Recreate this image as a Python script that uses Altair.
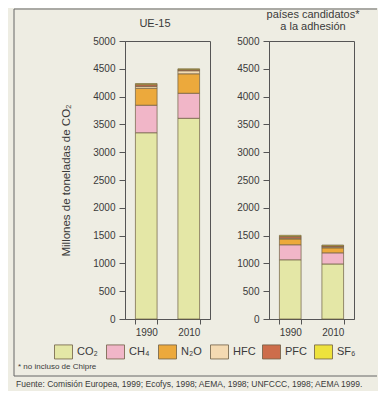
import altair as alt
import pandas as pd

gases = ["CO₂", "CH₄", "N₂O", "HFC", "PFC", "SF₆"]
years = ["1990", "2010"]
ue15_1990 = [3350, 495, 305, 35, 30, 20]
ue15_2010 = [3610, 450, 350, 55, 20, 15]
cand_1990 = [1065, 270, 105, 15, 30, 20]
cand_2010 = [990, 200, 90, 15, 20, 15]
colors = ["#e4e7a6", "#f1b6c8", "#eca93c", "#f4dab2", "#cd6d4b", "#eee23c"]
y_ticks = list(range(0, 5001, 500))
title_ue = ["UE-15"]
title_cand = ["países candidatos*", "a la adhesión"]
y_title = "Millones de toneladas de CO₂"
note = ["* no incluso de Chipre"]
source = ["Fuente: Comisión Europea, 1999; Ecofys, 1998; AEMA, 1998; UNFCCC, 1998; AEMA 1999."]


def table(v1990, v2010):
    rows = []
    for year, vals in zip(years, [v1990, v2010]):
        for i, (g, v) in enumerate(zip(gases, vals)):
            rows.append({"year": year, "gas": g, "idx": i, "value": v})
    return pd.DataFrame(rows)


FONT = "Liberation Sans"
NARROW = "Liberation Sans Narrow, Liberation Sans, sans-serif"
INK = "#3a3a3a"
LINE = "#555555"
EDGE = "#6e5e44"

legend = alt.Legend(
    title=None, orient="none", legendX=-71, legendY=301, direction="horizontal",
    columns=6, symbolType="M-1,-0.78H1V0.78H-1Z", symbolSize=324,
    symbolStrokeColor=EDGE, symbolStrokeWidth=0.8, symbolOpacity=1,
    labelFont=FONT, labelFontSize=11, labelColor=INK, labelOffset=4,
    columnPadding=4, padding=0, gridAlign="all",
)


def bars(df, ytitle):
    yaxis = alt.Axis(
        values=y_ticks, format="d", grid=False, tickSize=6, labelPadding=4,
        labelFont=NARROW, labelFontSize=10, labelColor=INK,
        domainColor=LINE, tickColor=LINE,
        titleFont=FONT, titleFontSize=11.5, titleFontWeight="normal",
        titleColor=INK, titlePadding=21,
    )
    return alt.Chart(df).mark_bar(stroke=EDGE, strokeWidth=0.7).encode(
        x=alt.X("year:N", scale=alt.Scale(paddingInner=0.49, paddingOuter=0.245),
                axis=alt.Axis(title=None, labelAngle=0, tickBand="extent", tickSize=5,
                              labelPadding=3, labelFont=NARROW, labelFontSize=10,
                              labelColor=INK, domainColor=LINE, tickColor=LINE)),
        y=alt.Y("value:Q", stack="zero", scale=alt.Scale(domain=[0, 5000]),
                title=ytitle, axis=yaxis),
        color=alt.Color("gas:N", scale=alt.Scale(domain=gases, range=colors), legend=legend),
        order=alt.Order("idx:Q", sort="ascending"),
    )


def label(lines, i, x, y, size, align="center"):
    return alt.Chart(pd.DataFrame({"t": [lines[i]]})).mark_text(
        align=align, baseline="middle", font=FONT, fontSize=size, color=INK
    ).encode(x=alt.value(x), y=alt.value(y), text="t:N")


one = pd.DataFrame({"k": [0]})
rule_style = dict(color="#666666", strokeWidth=1)
top_rule = alt.Chart(one).mark_rule(**rule_style).encode(
    x=alt.value(-111), x2=alt.value(252), y=alt.value(-32))
left_rule = alt.Chart(one).mark_rule(**rule_style).encode(
    x=alt.value(-111), y=alt.value(-32), y2=alt.value(335))
bottom_rule = alt.Chart(one).mark_rule(**rule_style).encode(
    x=alt.value(-111), x2=alt.value(252), y=alt.value(335))

left = alt.layer(
    bars(table(ue15_1990, ue15_2010), y_title),
    top_rule, left_rule, bottom_rule,
    label(title_ue, 0, 30, -17, 11),
    label(note, 0, -107, 326, 8, "left"),
    label(source, 0, -109, 343, 8.5, "left"),
).properties(width=85, height=278)

right = alt.layer(
    bars(table(cand_1990, cand_2010), None),
    label(title_cand, 0, 44, -26, 11),
    label(title_cand, 1, 44, -14, 11),
).properties(width=85, height=278)

chart = alt.hconcat(left, right, spacing=59, bounds="flush").properties(
    padding={"left": 5, "top": 0, "right": 0, "bottom": 2},
    background="#eeede3",
).configure_view(stroke=LINE, strokeWidth=1)

chart.save("out.html", embed_options={"renderer": "svg", "actions": False})
